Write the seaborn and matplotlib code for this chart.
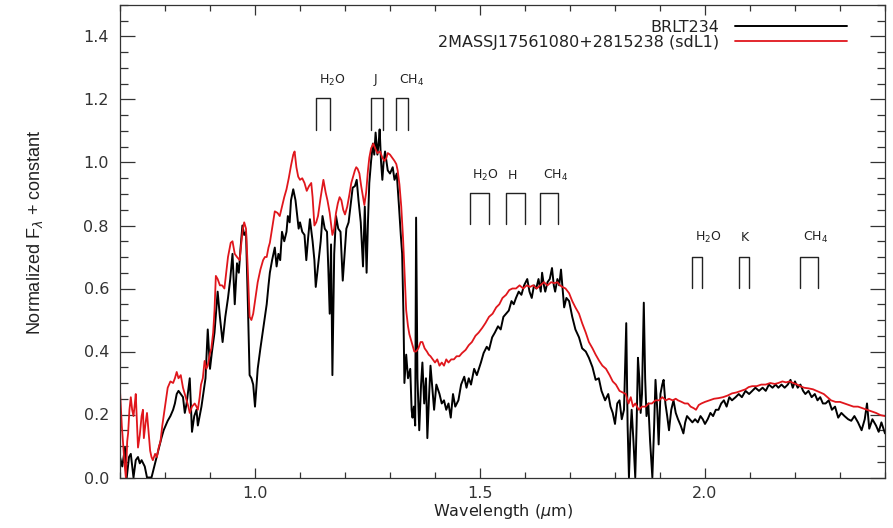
import matplotlib
matplotlib.use("Agg")
import matplotlib.pyplot as plt
import seaborn as sns
import pandas as pd
from matplotlib.ticker import MultipleLocator

# ---------------- data ----------------
brlt_wave = [
0.700,0.705,0.711,0.715,0.720,0.724,0.730,0.735,0.740,0.744,0.748,0.755,0.760,0.770,0.778,0.785,0.792,0.797,
0.806,0.812,0.818,0.822,0.826,0.830,0.835,0.840,0.844,0.848,0.855,0.860,0.865,0.870,0.873,0.877,0.881,0.885,
0.890,0.895,0.900,0.904,0.910,0.917,0.922,0.928,0.934,0.940,0.945,0.950,0.955,0.960,0.964,0.968,0.972,0.976,
0.980,0.984,0.988,0.992,0.996,1.000,1.006,1.012,1.017,1.022,1.026,1.030,1.033,1.038,1.044,1.048,1.052,1.056,
1.060,1.065,1.070,1.073,1.077,1.080,1.085,1.090,1.094,1.097,1.100,1.105,1.110,1.114,1.118,1.122,1.128,1.132,
1.135,1.140,1.146,1.150,1.155,1.160,1.163,1.166,1.169,1.172,1.176,1.180,1.185,1.190,1.195,1.199,1.203,1.208,
1.213,1.217,1.222,1.226,1.230,1.235,1.240,1.244,1.248,1.251,1.254,1.258,1.262,1.265,1.268,1.272,1.275,1.277,
1.280,1.283,1.286,1.289,1.292,1.295,1.300,1.306,1.310,1.315,1.320,1.324,1.327,1.330,1.332,1.336,1.340,1.345,
1.348,1.350,1.353,1.356,1.358,1.361,1.365,1.369,1.372,1.376,1.380,1.383,1.387,1.390,1.394,1.398,1.403,1.410,
1.415,1.420,1.425,1.430,1.435,1.440,1.445,1.452,1.458,1.465,1.470,1.475,1.480,1.487,1.493,1.502,1.508,1.515,
1.520,1.527,1.533,1.540,1.546,1.552,1.558,1.564,1.570,1.575,1.580,1.586,1.592,1.598,1.605,1.610,1.615,1.620,
1.625,1.630,1.635,1.638,1.642,1.645,1.650,1.655,1.660,1.664,1.667,1.672,1.676,1.680,1.684,1.687,1.692,1.698,
1.705,1.712,1.720,1.727,1.735,1.742,1.750,1.757,1.764,1.770,1.778,1.785,1.790,1.795,1.800,1.805,1.810,1.815,
1.820,1.825,1.828,1.831,1.834,1.837,1.841,1.845,1.848,1.851,1.854,1.857,1.860,1.864,1.867,1.870,1.874,1.878,
1.883,1.887,1.890,1.894,1.897,1.901,1.905,1.908,1.912,1.916,1.920,1.925,1.930,1.935,1.940,1.946,1.952,1.956,
1.960,1.966,1.972,1.978,1.984,1.990,1.995,2.000,2.006,2.012,2.018,2.024,2.030,2.036,2.042,2.048,2.054,2.060,
2.068,2.075,2.082,2.090,2.098,2.105,2.112,2.120,2.128,2.135,2.142,2.150,2.157,2.163,2.170,2.177,2.184,2.190,
2.195,2.200,2.206,2.212,2.218,2.223,2.230,2.237,2.244,2.250,2.256,2.262,2.268,2.275,2.282,2.289,2.296,2.303,
2.310,2.318,2.325,2.332,2.340,2.348,2.355,2.360,2.365,2.372,2.380,2.386,2.392,2.400]
brlt_flux = [
0.065,0.035,0.095,0.0,0.065,0.075,0.0,0.055,0.065,0.045,0.055,0.035,0.0,0.0,0.045,0.085,0.125,0.15,
0.18,0.195,0.215,0.235,0.265,0.275,0.265,0.255,0.205,0.235,0.315,0.145,0.195,0.215,0.165,0.195,0.225,0.265,
0.315,0.47,0.345,0.395,0.46,0.59,0.51,0.43,0.51,0.57,0.63,0.71,0.55,0.68,0.65,0.73,0.80,0.77,
0.78,0.56,0.325,0.315,0.295,0.225,0.345,0.41,0.46,0.51,0.55,0.61,0.65,0.69,0.73,0.67,0.71,0.69,
0.78,0.75,0.78,0.83,0.81,0.88,0.915,0.88,0.83,0.79,0.81,0.78,0.77,0.69,0.76,0.82,0.75,0.69,
0.605,0.67,0.75,0.83,0.79,0.78,0.66,0.52,0.74,0.325,0.71,0.83,0.79,0.78,0.625,0.71,0.79,0.81,
0.87,0.92,0.925,0.945,0.88,0.81,0.67,0.86,0.65,0.81,0.935,1.005,1.06,1.025,1.095,1.025,1.065,1.105,
1.005,0.945,1.005,1.035,1.005,0.975,0.965,0.985,0.945,0.965,0.86,0.77,0.71,0.51,0.30,0.39,0.315,0.345,
0.215,0.19,0.225,0.165,0.825,0.315,0.15,0.295,0.365,0.235,0.315,0.125,0.265,0.355,0.285,0.215,0.295,0.265,
0.235,0.245,0.215,0.235,0.19,0.265,0.225,0.245,0.295,0.32,0.285,0.315,0.295,0.345,0.325,0.365,0.395,0.415,
0.405,0.445,0.46,0.48,0.47,0.51,0.52,0.53,0.56,0.55,0.57,0.59,0.58,0.61,0.63,0.59,0.57,0.61,
0.60,0.63,0.59,0.65,0.61,0.59,0.62,0.63,0.665,0.61,0.59,0.63,0.61,0.66,0.59,0.54,0.57,0.56,
0.51,0.47,0.445,0.41,0.40,0.38,0.35,0.31,0.315,0.275,0.245,0.265,0.225,0.205,0.17,0.235,0.245,0.185,
0.215,0.49,0.165,0.0,0.135,0.215,0.115,0.0,0.165,0.38,0.315,0.205,0.265,0.555,0.315,0.195,0.235,0.115,
0.0,0.165,0.31,0.215,0.105,0.265,0.295,0.31,0.235,0.195,0.15,0.215,0.245,0.205,0.185,0.165,0.14,0.175,
0.195,0.185,0.175,0.185,0.175,0.195,0.185,0.17,0.185,0.205,0.195,0.215,0.215,0.235,0.245,0.225,0.255,0.245,
0.255,0.265,0.255,0.275,0.265,0.275,0.285,0.275,0.285,0.275,0.295,0.285,0.295,0.285,0.295,0.285,0.295,0.31,
0.285,0.305,0.285,0.295,0.275,0.265,0.275,0.255,0.265,0.245,0.255,0.235,0.235,0.245,0.215,0.225,0.19,0.205,
0.195,0.185,0.18,0.195,0.175,0.15,0.185,0.235,0.155,0.185,0.165,0.145,0.175,0.14]

sdl_wave = [
0.700,0.704,0.707,0.710,0.713,0.716,0.718,0.721,0.724,0.727,0.730,0.733,0.735,0.738,0.740,0.744,0.748,0.751,
0.753,0.757,0.760,0.764,0.767,0.770,0.773,0.778,0.782,0.786,0.790,0.794,0.800,0.806,0.812,0.818,0.822,0.826,
0.830,0.835,0.840,0.844,0.848,0.852,0.855,0.860,0.866,0.870,0.873,0.877,0.880,0.884,0.888,0.892,0.895,0.900,
0.903,0.907,0.910,0.913,0.917,0.922,0.927,0.932,0.936,0.940,0.946,0.950,0.955,0.960,0.966,0.970,0.973,0.976,
0.980,0.984,0.988,0.992,0.996,1.000,1.006,1.012,1.018,1.022,1.026,1.030,1.033,1.038,1.044,1.050,1.055,1.060,
1.065,1.070,1.075,1.080,1.085,1.088,1.092,1.096,1.100,1.105,1.110,1.115,1.120,1.125,1.128,1.132,1.136,1.140,
1.146,1.152,1.157,1.161,1.166,1.172,1.176,1.180,1.184,1.188,1.192,1.196,1.200,1.205,1.210,1.214,1.218,1.222,
1.225,1.228,1.232,1.236,1.240,1.243,1.247,1.251,1.254,1.258,1.263,1.267,1.272,1.278,1.283,1.288,1.292,1.295,
1.300,1.305,1.310,1.314,1.317,1.321,1.325,1.329,1.332,1.336,1.340,1.343,1.348,1.354,1.358,1.363,1.368,1.372,
1.377,1.382,1.386,1.390,1.395,1.400,1.405,1.410,1.415,1.420,1.425,1.430,1.436,1.442,1.448,1.454,1.460,1.468,
1.475,1.482,1.490,1.497,1.505,1.512,1.520,1.528,1.536,1.543,1.550,1.558,1.565,1.572,1.580,1.588,1.596,1.604,
1.611,1.618,1.626,1.634,1.642,1.650,1.658,1.665,1.672,1.678,1.683,1.690,1.698,1.705,1.712,1.720,1.727,1.735,
1.742,1.750,1.757,1.765,1.772,1.780,1.788,1.795,1.802,1.810,1.817,1.824,1.830,1.835,1.840,1.845,1.853,1.860,
1.868,1.875,1.882,1.890,1.898,1.905,1.913,1.920,1.928,1.935,1.940,1.948,1.955,1.962,1.968,1.975,1.980,1.986,
1.992,2.000,2.010,2.020,2.030,2.040,2.050,2.060,2.070,2.080,2.090,2.097,2.105,2.115,2.125,2.135,2.145,2.155,
2.163,2.172,2.180,2.188,2.196,2.205,2.212,2.220,2.230,2.240,2.248,2.256,2.264,2.272,2.280,2.290,2.300,2.310,
2.320,2.330,2.340,2.350,2.360,2.370,2.380,2.390,2.400]
sdl_flux = [
0.275,0.165,0.105,0.045,0.0,0.115,0.14,0.215,0.255,0.215,0.195,0.235,0.265,0.165,0.095,0.135,0.195,0.215,
0.125,0.175,0.205,0.135,0.085,0.065,0.055,0.075,0.065,0.095,0.115,0.165,0.225,0.285,0.305,0.30,0.315,0.335,
0.315,0.325,0.285,0.265,0.245,0.225,0.205,0.225,0.235,0.225,0.215,0.255,0.295,0.315,0.37,0.345,0.355,0.395,
0.41,0.46,0.53,0.64,0.63,0.61,0.61,0.60,0.65,0.70,0.745,0.75,0.71,0.70,0.69,0.75,0.79,0.81,
0.79,0.66,0.51,0.50,0.52,0.56,0.62,0.66,0.69,0.70,0.70,0.73,0.745,0.79,0.845,0.84,0.83,0.86,
0.89,0.915,0.95,0.99,1.025,1.035,0.985,0.955,0.945,0.95,0.935,0.91,0.925,0.935,0.89,0.80,0.81,0.83,
0.89,0.945,0.905,0.88,0.84,0.77,0.79,0.84,0.87,0.89,0.88,0.85,0.835,0.86,0.90,0.935,0.955,0.975,
0.985,0.98,0.965,0.925,0.89,0.865,0.905,0.975,1.015,1.045,1.06,1.045,1.03,1.035,1.015,1.005,1.015,1.03,
1.025,1.015,1.005,0.995,0.975,0.93,0.86,0.76,0.66,0.53,0.48,0.455,0.43,0.40,0.40,0.41,0.43,0.43,
0.41,0.40,0.39,0.385,0.375,0.365,0.375,0.355,0.365,0.355,0.375,0.365,0.375,0.375,0.385,0.385,0.395,0.405,
0.42,0.43,0.45,0.46,0.475,0.49,0.51,0.52,0.54,0.55,0.57,0.58,0.595,0.60,0.60,0.61,0.60,0.61,
0.605,0.61,0.60,0.61,0.62,0.61,0.62,0.617,0.62,0.61,0.605,0.60,0.585,0.56,0.54,0.52,0.49,0.46,
0.43,0.41,0.39,0.37,0.355,0.345,0.325,0.305,0.295,0.275,0.27,0.265,0.235,0.255,0.225,0.235,0.215,0.225,
0.225,0.235,0.235,0.245,0.245,0.255,0.245,0.25,0.245,0.25,0.245,0.24,0.235,0.235,0.225,0.22,0.215,0.23,
0.235,0.24,0.245,0.25,0.252,0.255,0.26,0.267,0.27,0.275,0.28,0.287,0.29,0.29,0.295,0.295,0.30,0.297,
0.30,0.305,0.302,0.305,0.30,0.295,0.29,0.285,0.283,0.28,0.275,0.27,0.265,0.255,0.245,0.24,0.24,0.235,
0.23,0.225,0.225,0.22,0.215,0.21,0.205,0.198,0.195]

series_names = ["BRLT234", "2MASSJ17561080+2815238 (sdL1)"]
series_colors = ["black", "#e0161c"]

# absorption-band markers: label, bracket start, bracket end, bottom, top, label x, label y
band_labels = ["H$_2$O", "J", "CH$_4$", "H$_2$O", "H", "CH$_4$", "H$_2$O", "K", "CH$_4$"]
band_start = [1.136, 1.258, 1.313, 1.478, 1.557, 1.633, 1.971, 2.076, 2.211]
band_end   = [1.166, 1.284, 1.339, 1.519, 1.600, 1.674, 1.993, 2.098, 2.252]
band_low   = [1.103, 1.103, 1.103, 0.805, 0.805, 0.805, 0.602, 0.602, 0.602]
band_high  = [1.205, 1.205, 1.205, 0.903, 0.903, 0.903, 0.701, 0.701, 0.701]
label_x    = [1.172, 1.268, 1.347, 1.512, 1.571, 1.667, 2.007, 2.089, 2.245]
label_y    = [1.262, 1.262, 1.262, 0.960, 0.960, 0.960, 0.761, 0.761, 0.761]

# ---------------- plot ----------------
sns.set_style("ticks")
plt.rcParams["font.family"] = ["DejaVu Sans"]

fig = plt.figure(figsize=(8.93, 5.28), dpi=100)
ax = fig.add_axes([120/893, 1-477.5/528, 765/893, 472.5/528])

df_b = pd.DataFrame({"wave": brlt_wave, "flux": brlt_flux})
df_s = pd.DataFrame({"wave": sdl_wave, "flux": sdl_flux})
sns.lineplot(data=df_b, x="wave", y="flux", color=series_colors[0], lw=1.4,
             estimator=None, sort=False, label=series_names[0], ax=ax)
sns.lineplot(data=df_s, x="wave", y="flux", color=series_colors[1], lw=1.3,
             estimator=None, sort=False, label=series_names[1], ax=ax)

for lab, a, b, lo, hi, lx, ly in zip(band_labels, band_start, band_end, band_low,
                                     band_high, label_x, label_y):
    ax.plot([a, a, b, b], [lo, hi, hi, lo], color="#222222", lw=1.0)
    ax.text(lx, ly, lab, ha="center", va="center", fontsize=9, color="#222222")

ax.set_xlim(0.70, 2.40)
ax.set_ylim(0.0, 1.5)
ax.xaxis.set_major_locator(MultipleLocator(0.5))
ax.xaxis.set_minor_locator(MultipleLocator(0.1))
ax.yaxis.set_major_locator(MultipleLocator(0.2))
ax.yaxis.set_minor_locator(MultipleLocator(0.05))
ax.tick_params(axis="both", which="both", direction="in", top=True, right=True,
               colors="#333333", labelsize=11.5, width=0.9)
ax.tick_params(axis="y", which="major", length=11, pad=8)
ax.tick_params(axis="y", which="minor", length=6)
ax.tick_params(axis="x", which="major", length=7, pad=6)
ax.tick_params(axis="x", which="minor", length=4)
ax.xaxis.set_major_formatter(matplotlib.ticker.FormatStrFormatter("%.1f"))
ax.yaxis.set_major_formatter(matplotlib.ticker.FormatStrFormatter("%.1f"))
for s in ax.spines.values():
    s.set_color("#333333")
    s.set_linewidth(0.9)

ax.set_xlabel("Wavelength ($\\mu$m)", fontsize=11.5, color="#222222", labelpad=1)
ax.set_ylabel("Normalized F$_\\lambda$ + constant", fontsize=13, color="#222222",
              family=["Liberation Sans", "DejaVu Sans"])
ax.yaxis.set_label_coords(-0.098, 0.52)

leg = ax.legend(loc="upper right", bbox_to_anchor=((847-120)/765, (477.5-20)/472.5),
                frameon=False, markerfirst=False, fontsize=11.5, handlelength=7.0,
                handletextpad=1.0, labelspacing=0.0, borderpad=0, borderaxespad=0)
for t in leg.get_texts():
    t.set_color("#222222")

fig.savefig("out.png", dpi=100)
